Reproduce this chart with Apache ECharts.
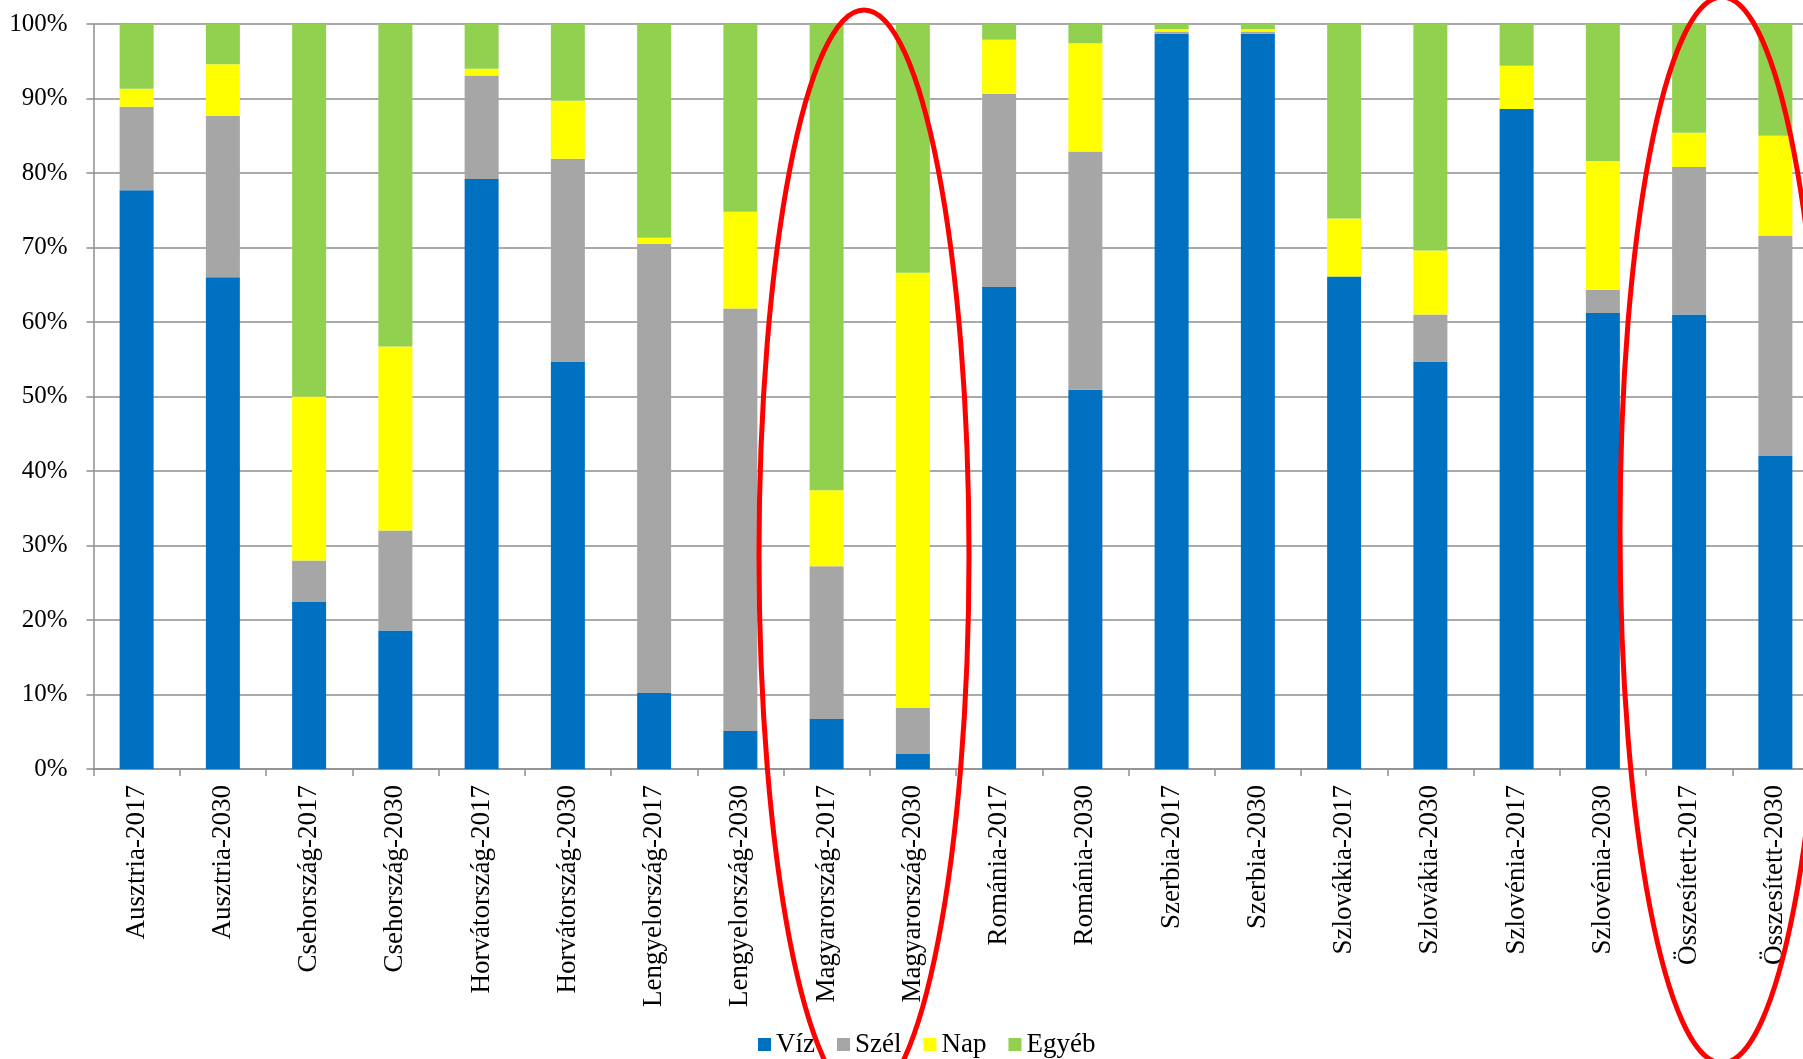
<!DOCTYPE html>
<html>
<head>
<meta charset="utf-8">
<title>Villamosenergia-termelés megújuló forrásokból</title>
<script src="https://cdn.jsdelivr.net/npm/echarts@6/dist/echarts.min.js"></script>
<style>
  html, body { margin: 0; padding: 0; background: #ffffff; overflow: hidden; }
  /* the plot runs slightly past the right edge of the window */
  #chart { width: 1830px; height: 1059px; }
</style>
</head>
<body>
<div id="chart"></div>
<script>
// Categories: country + year
const categories = [
  'Ausztria-2017', 'Ausztria-2030',
  'Csehország-2017', 'Csehország-2030',
  'Horvátország-2017', 'Horvátország-2030',
  'Lengyelország-2017', 'Lengyelország-2030',
  'Magyarország-2017', 'Magyarország-2030',
  'Románia-2017', 'Románia-2030',
  'Szerbia-2017', 'Szerbia-2030',
  'Szlovákia-2017', 'Szlovákia-2030',
  'Szlovénia-2017', 'Szlovénia-2030',
  'Összesített-2017', 'Összesített-2030'
];

// Shares (%) of each source
const viz   = [77.7, 66.0, 22.4, 18.6, 79.2, 54.7, 10.2, 5.1, 6.7, 2.0, 64.7, 50.9, 98.7, 98.7, 66.1, 54.7, 88.6, 61.2, 61.0, 42.0];
const szel  = [11.2, 21.7, 5.6, 13.4, 13.9, 27.2, 60.3, 56.7, 20.5, 6.2, 25.9, 32.0, 0.3, 0.3, 0.0, 6.3, 0.0, 3.1, 19.8, 29.6];
const nap   = [2.4, 6.9, 22.0, 24.7, 0.9, 7.8, 0.8, 13.0, 10.2, 58.4, 7.3, 14.5, 0.3, 0.3, 7.8, 8.6, 5.8, 17.3, 4.6, 13.4];
const egyeb = [8.7, 5.4, 50.0, 43.3, 6.0, 10.3, 28.7, 25.2, 62.6, 33.4, 2.1, 2.6, 0.7, 0.7, 26.1, 30.4, 5.6, 18.4, 14.6, 15.0];

const seriesNames = ['Víz', 'Szél', 'Nap', 'Egyéb'];
const seriesColors = ['#0070C0', '#A6A6A6', '#FFFF00', '#92D050'];
const seriesData = [viz, szel, nap, egyeb];

const FONT = "'Liberation Serif', 'Times New Roman', serif";
const GRID_COLOR = '#8e8e8e';

const chart = echarts.init(document.getElementById('chart'), null, { renderer: 'canvas' });

chart.setOption({
  animation: false,
  backgroundColor: '#ffffff',
  grid: { left: 93.5, top: 24, width: 1725, height: 745, containLabel: false },
  legend: {
    data: seriesNames,
    left: 753,
    top: 1026,
    icon: 'rect',
    itemWidth: 13,
    itemHeight: 13,
    itemGap: 22,
    textStyle: { fontFamily: FONT, fontSize: 27, color: '#000' }
  },
  xAxis: {
    type: 'category',
    data: categories,
    boundaryGap: true,
    axisLine: { show: true, lineStyle: { color: GRID_COLOR, width: 1.5 } },
    axisTick: { show: true, length: 7, alignWithLabel: false, lineStyle: { color: GRID_COLOR, width: 1.5 } },
    axisLabel: {
      interval: 0,
      rotate: 90,
      margin: 16,
      fontFamily: FONT,
      fontSize: 27,
      color: '#000'
    },
    splitLine: { show: false }
  },
  yAxis: {
    type: 'value',
    min: 0,
    max: 100,
    interval: 10,
    axisLine: { show: true, lineStyle: { color: GRID_COLOR, width: 1.5 } },
    axisTick: { show: true, length: 7, lineStyle: { color: GRID_COLOR, width: 1.5 } },
    axisLabel: {
      formatter: '{value}%',
      margin: 26,
      fontFamily: FONT,
      fontSize: 25,
      color: '#000'
    },
    splitLine: { show: true, lineStyle: { color: GRID_COLOR, width: 1.5 } }
  },
  series: seriesNames.map((name, i) => ({
    name: name,
    type: 'bar',
    stack: 'arany',
    barWidth: 34,
    data: seriesData[i],
    itemStyle: { color: seriesColors[i] },
    emphasis: { disabled: true }
  })),
  // Red highlight rings around Magyarország and Összesített
  graphic: [
    {
      type: 'ellipse',
      shape: { cx: 864, cy: 555, rx: 105, ry: 545 },
      style: { fill: 'none', stroke: '#FF0000', lineWidth: 5 },
      z: 100
    },
    {
      type: 'ellipse',
      shape: { cx: 1722, cy: 530, rx: 102, ry: 533 },
      style: { fill: 'none', stroke: '#FF0000', lineWidth: 5 },
      z: 100
    }
  ]
});
</script>
</body>
</html>
